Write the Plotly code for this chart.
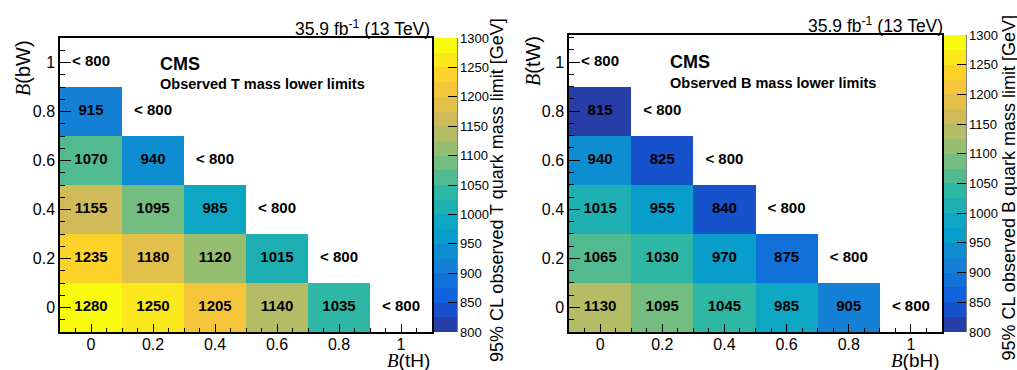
import plotly.graph_objects as go

# Branching-fraction grid (both axes)
br_grid = [0.0, 0.2, 0.4, 0.6, 0.8, 1.0]
br_ticktext = ["0", "0.2", "0.4", "0.6", "0.8", "1"]

# Observed T mass lower limits [GeV]; rows = B(bW), columns = B(tH).
# The cell just past the end of each row (B sum = 1) has a limit below 800 GeV.
t_limits = [
    [1280, 1250, 1205, 1140, 1035],
    [1235, 1180, 1120, 1015],
    [1155, 1095, 985],
    [1070, 940],
    [915],
    [],
]

# Observed B mass lower limits [GeV]; rows = B(tW), columns = B(bH).
b_limits = [
    [1130, 1095, 1045, 985, 905],
    [1065, 1030, 970, 875],
    [1015, 955, 840],
    [940, 825],
    [815],
    [],
]

z_min, z_max, n_bands = 800, 1300, 20
cbar_ticks = list(range(800, 1301, 50))

W, H = 1017, 370
FONT = "Liberation Sans"


def px(x):
    return x / W


def py(y):
    return 1 - y / H


# ROOT kBird palette, sampled into discrete contour bands
bird_stops = [0.0, 0.125, 0.25, 0.375, 0.5, 0.625, 0.75, 0.875, 1.0]
bird_r = [0.2082, 0.0592, 0.0780, 0.0232, 0.1802, 0.5301, 0.8186, 0.9956, 0.9764]
bird_g = [0.1664, 0.3599, 0.5041, 0.6419, 0.7178, 0.7492, 0.7328, 0.7862, 0.9832]
bird_b = [0.5293, 0.8684, 0.8385, 0.7914, 0.6425, 0.4662, 0.3499, 0.1968, 0.0539]


def bird(f):
    for i in range(len(bird_stops) - 1):
        a, b = bird_stops[i], bird_stops[i + 1]
        if f <= b or i == len(bird_stops) - 2:
            t = (f - a) / (b - a)
            r = bird_r[i] + t * (bird_r[i + 1] - bird_r[i])
            g = bird_g[i] + t * (bird_g[i + 1] - bird_g[i])
            bl = bird_b[i] + t * (bird_b[i + 1] - bird_b[i])
            return "rgb(%d,%d,%d)" % (round(r * 255), round(g * 255), round(bl * 255))


colorscale = []
for k in range(n_bands):
    idx = int((k + 0.99) * 255 / n_bands)
    c = bird(min(idx, 254) / 254)
    colorscale.append([k / n_bands, c])
    colorscale.append([(k + 1) / n_bands, c])


def grid_z(rows):
    z = []
    for row in rows:
        z.append(list(row) + [None] * (len(br_grid) - len(row)))
    return z


def labels(rows):
    xs, ys, texts = [], [], []
    for j, row in enumerate(rows):
        for i, v in enumerate(row):
            xs.append(br_grid[i])
            ys.append(br_grid[j])
            texts.append(str(v))
        xs.append(br_grid[len(row)])
        ys.append(br_grid[j])
        texts.append("< 800")
    return xs, ys, texts


panels = [
    dict(rows=t_limits, xa="x", ya="y",
         frame=(60, 432, 38, 332), yrange=[-0.1, 1.1], cbar_x=434, cbar_w=23,
         cbar_title="95% CL observed T quark mass limit [GeV]", cbar_title_x=497,
         xtitle="(tH)", ytitle="(bW)", ytitle_x=23, ytitle_y=68,
         cms=(158, 64), sub=(158, 84), lumi=(432, 28),
         subtitle="Observed T mass lower limits"),
    dict(rows=b_limits, xa="x2", ya="y2",
         frame=(569, 942, 35, 332), yrange=[-0.1, 1.11], cbar_x=944, cbar_w=22,
         cbar_title="95% CL observed B quark mass limit [GeV]", cbar_title_x=1008,
         xtitle="(bH)", ytitle="(tW)", ytitle_x=533, ytitle_y=61,
         cms=(668, 62), sub=(668, 83), lumi=(945, 25),
         subtitle="Observed B mass lower limits"),
]

fig = go.Figure()
annotations = []
layout_axes = {}


def note(x, y, text, size, xanchor="center", angle=0):
    return dict(x=px(x), y=py(y), xref="paper", yref="paper", text=text,
                xanchor=xanchor, yanchor="middle", showarrow=False, textangle=angle,
                font=dict(family=FONT, size=size, color="black"))


for n, p in enumerate(panels):
    x0, x1, y0, y1 = p["frame"]
    fig.add_trace(go.Heatmap(
        x=br_grid, y=br_grid, z=grid_z(p["rows"]),
        xaxis=p["xa"], yaxis=p["ya"],
        zmin=z_min, zmax=z_max, colorscale=colorscale,
        hoverinfo="skip",
        colorbar=dict(
            x=px(p["cbar_x"]), xanchor="left", xref="paper", xpad=0,
            y=py(y1), yanchor="bottom", ypad=0,
            len=(y1 - y0) / H, lenmode="fraction",
            thickness=p["cbar_w"], thicknessmode="pixels",
            outlinewidth=0,
            tickvals=cbar_ticks, ticks="inside", ticklen=9,
            tickcolor="black", tickwidth=1,
            tickfont=dict(family=FONT, size=13, color="black"),
        ),
    ))
    xs, ys, texts = labels(p["rows"])
    fig.add_trace(go.Scatter(
        x=xs, y=ys, text=texts, mode="text",
        xaxis=p["xa"], yaxis=p["ya"],
        textfont=dict(family=FONT, size=15, color="black", weight="bold"),
        hoverinfo="skip", showlegend=False,
    ))

    suffix = "" if n == 0 else "2"
    layout_axes["xaxis" + suffix] = dict(
        domain=[px(x0), px(x1)], range=[-0.1, 1.1], anchor="y" + suffix,
        tickvals=br_grid, ticktext=br_ticktext,
        ticks="inside", ticklen=8, tickwidth=1, tickcolor="black",
        ticklabelstandoff=-3,
        minor=dict(dtick=0.05, tick0=0, ticks="inside", ticklen=4, tickcolor="black"),
        showline=True, linecolor="black", linewidth=1.5, mirror=True,
        showgrid=False, zeroline=False,
        tickfont=dict(family=FONT, size=16, color="black"),
    )
    layout_axes["yaxis" + suffix] = dict(
        domain=[py(y1), py(y0)], range=p["yrange"], anchor="x" + suffix,
        tickvals=br_grid, ticktext=br_ticktext,
        ticks="inside", ticklen=11, tickwidth=1, tickcolor="black",
        minor=dict(dtick=0.05, tick0=0, ticks="inside", ticklen=5, tickcolor="black"),
        showline=True, linecolor="black", linewidth=1.5, mirror=True,
        showgrid=False, zeroline=False,
        tickfont=dict(family=FONT, size=16, color="black"),
    )

    # right edge line of the palette axis
    fig.add_shape(type="line", xref="paper", yref="paper",
                  x0=px(p["cbar_x"] + p["cbar_w"]), x1=px(p["cbar_x"] + p["cbar_w"]),
                  y0=py(y1), y1=py(y0), line=dict(color="black", width=1))

    b_italic = "<span style='font-family:Liberation Serif'><i>B</i></span>"
    annotations += [
        note(p["cbar_title_x"], (y0 + y1) / 2 + 5, p["cbar_title"], 18, angle=-90),
        note(x1, 360, b_italic + p["xtitle"], 19, xanchor="right"),
        note(p["ytitle_x"], p["ytitle_y"], b_italic + p["ytitle"], 20, angle=-90),
        note(p["cms"][0], p["cms"][1], "<b>CMS</b>", 18, xanchor="left"),
        note(p["sub"][0], p["sub"][1], "<b>" + p["subtitle"] + "</b>", 14.5, xanchor="left"),
        note(p["lumi"][0], p["lumi"][1], "35.9 fb<sup>-1</sup> (13 TeV)", 17.5, xanchor="right"),
    ]

fig.update_layout(
    width=W, height=H,
    margin=dict(l=0, r=0, t=0, b=0),
    paper_bgcolor="white", plot_bgcolor="white",
    showlegend=False,
    annotations=annotations,
    **layout_axes,
)

fig.write_html("out.html")
